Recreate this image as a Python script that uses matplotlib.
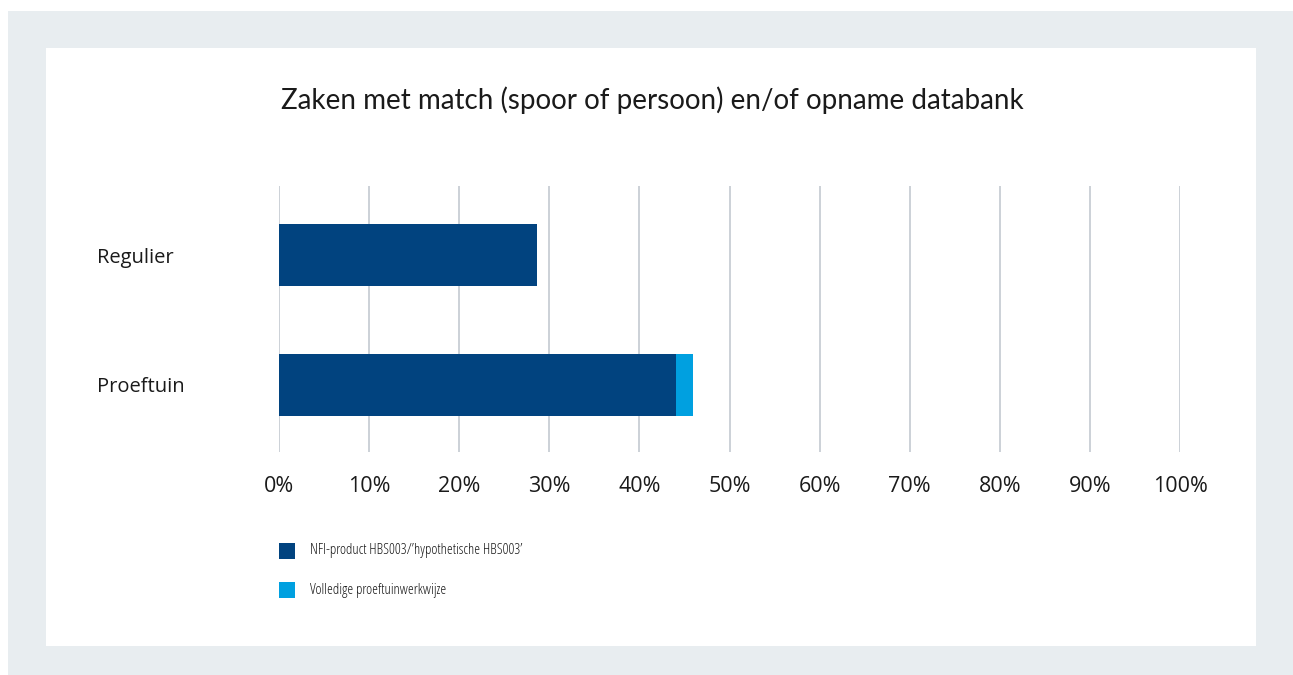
import matplotlib
matplotlib.use("Agg")
import matplotlib.pyplot as plt
from matplotlib.patches import Rectangle

categories = ["Regulier", "Proeftuin"]
series_names = ["NFI-product HBS003/\u2019hypothetische HBS003\u2019", "Volledige proeftuinwerkwijze"]
nfi_values = [28.6, 44.1]
volledig_values = [0.0, 1.8]
colors = ["#01437f", "#00a0e0"]
xticks = [0, 10, 20, 30, 40, 50, 60, 70, 80, 90, 100]
xticklabels = [f"{v}%" for v in xticks]
title = "Zaken met match (spoor of persoon) en/of opname databank"

plt.rcParams['font.family'] = ['Open Sans', 'DejaVu Sans']

W, H = 1293, 675
fig = plt.figure(figsize=(W / 100, H / 100), dpi=100)
fig.patch.set_facecolor("white")

def fx(px):
    return px / W

def fy(py):
    return 1 - py / H

# background panels
fig.patches.append(Rectangle((fx(8), 0), 1 - fx(8), fy(11), transform=fig.transFigure,
                             facecolor="#e8edf0", edgecolor="none", zorder=-2))
fig.patches.append(Rectangle((fx(46), fy(646)), fx(1256) - fx(46), fy(48) - fy(646),
                             transform=fig.transFigure, facecolor="white", edgecolor="none", zorder=-1))

ax = fig.add_axes([fx(279), fy(452), fx(1180) - fx(279), fy(186) - fy(452)])
ax.set_facecolor("none")

ypos = [1, 0]
bh = 0.477
ax.barh(ypos, nfi_values, height=bh, color=colors[0], zorder=3)
ax.barh(ypos, volledig_values, left=nfi_values, height=bh, color=colors[1], zorder=3)

ax.set_xlim(0, 100)
ax.set_ylim(-0.5154, 1.5308)
ax.set_xticks(xticks)
ax.set_xticklabels(xticklabels, fontsize=15.5, color="#1a1a1a")
ax.grid(axis="x", color="#c3cad1", linewidth=1.2, zorder=0)
ax.tick_params(axis="x", length=0, pad=17)
ax.set_yticks(ypos)
ax.set_yticklabels(categories, fontsize=14.5, color="#1a1a1a", ha="left")
ax.tick_params(axis="y", length=0, pad=131)
for s in ax.spines.values():
    s.set_visible(False)

fig.text(fx(652), fy(109), title, ha="center", va="baseline", fontsize=20,
         color="#1a1a1a", family=["Lato", "DejaVu Sans"])

# legend
leg_y = [551, 590]
for i, name in enumerate(series_names):
    fig.patches.append(Rectangle((fx(279), fy(leg_y[i] + 8)), fx(16), 16 / H,
                                 transform=fig.transFigure, facecolor=colors[i], edgecolor="none"))
    fig.text(fx(310), fy(leg_y[i]), name, ha="left", va="center", fontsize=10.6,
             color="#1a1a1a", fontstretch="condensed")

fig.savefig("out.png", dpi=100)
